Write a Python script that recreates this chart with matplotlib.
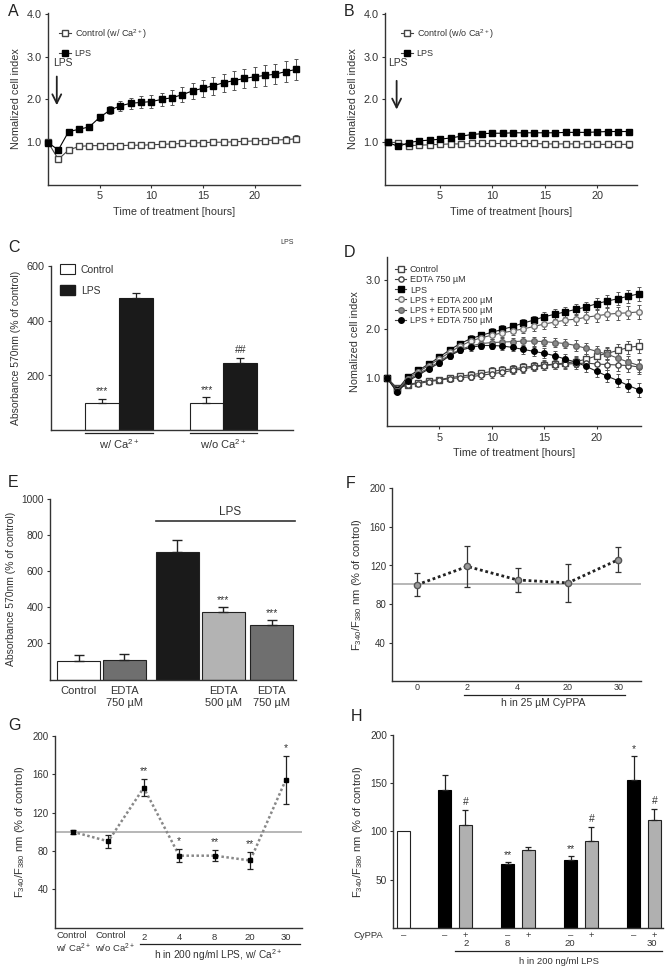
import numpy as np
import matplotlib
matplotlib.use("Agg")
import matplotlib.pyplot as plt
from matplotlib.lines import Line2D
from matplotlib.patches import Patch

plt.rcParams['font.family'] = ['Liberation Sans', 'DejaVu Sans']
plt.rcParams['mathtext.default'] = 'regular'
plt.rcParams['font.size'] = 7.5
plt.rcParams['text.color'] = '#333333'
plt.rcParams['axes.labelcolor'] = '#333333'

# ---- A: cell index with Ca2+ ----
hours_a = np.arange(25)
a_ctrl = [1.0, 0.6, 0.82, 0.9, 0.92, 0.92, 0.92, 0.92, 0.93, 0.93, 0.94, 0.95, 0.96,
          0.97, 0.98, 0.99, 1.0, 1.0, 1.01, 1.02, 1.03, 1.04, 1.05, 1.06, 1.08]
a_ctrl_err = [0.02, 0.03, 0.02, 0.02, 0.02, 0.02, 0.02, 0.02, 0.03, 0.03, 0.03, 0.03, 0.03,
              0.04, 0.04, 0.05, 0.05, 0.05, 0.06, 0.06, 0.06, 0.07, 0.07, 0.08, 0.08]
a_lps = [0.99, 0.82, 1.25, 1.3, 1.36, 1.58, 1.75, 1.85, 1.91, 1.93, 1.95, 2.0, 2.04,
         2.11, 2.2, 2.26, 2.32, 2.39, 2.44, 2.49, 2.53, 2.56, 2.59, 2.65, 2.7]
a_lps_err = [0.02, 0.03, 0.05, 0.05, 0.06, 0.08, 0.10, 0.12, 0.13, 0.14, 0.15, 0.16, 0.17,
             0.18, 0.19, 0.20, 0.21, 0.21, 0.22, 0.23, 0.23, 0.24, 0.24, 0.25, 0.25]

# ---- B: cell index without Ca2+ ----
hours_b = np.arange(24)
b_ctrl = [1.0, 0.99, 0.92, 0.93, 0.94, 0.95, 0.96, 0.96, 0.97, 0.97, 0.97, 0.97, 0.97,
          0.97, 0.97, 0.96, 0.96, 0.96, 0.96, 0.96, 0.95, 0.95, 0.95, 0.95]
b_ctrl_err = [0.01, 0.02, 0.02, 0.02, 0.02, 0.02, 0.02, 0.02, 0.02, 0.02, 0.02, 0.03,
              0.03, 0.03, 0.03, 0.04, 0.04, 0.05, 0.05, 0.06, 0.06, 0.07, 0.07, 0.08]
b_lps = [1.0, 0.9, 0.99, 1.03, 1.05, 1.07, 1.1, 1.14, 1.18, 1.2, 1.21, 1.21, 1.22,
         1.22, 1.22, 1.22, 1.22, 1.23, 1.23, 1.23, 1.24, 1.25, 1.25, 1.25]
b_lps_err = [0.01, 0.02, 0.02, 0.02, 0.02, 0.02, 0.02, 0.02, 0.02, 0.02, 0.02, 0.02,
             0.02, 0.02, 0.02, 0.02, 0.02, 0.02, 0.02, 0.02, 0.02, 0.02, 0.02, 0.02]

# ---- C: MTT with / without Ca2+ ----
c_groups = ['w/ Ca$^{2+}$', 'w/o Ca$^{2+}$']
c_ctrl = [100, 100]
c_ctrl_err = [15, 20]
c_lps = [485, 245]
c_lps_err = [18, 20]
c_ctrl_marks = ['***', '***']
c_lps_marks = ['', '##']

# ---- D: EDTA time course ----
hours_d = np.arange(25)
d_ctrl = [1.0, 0.78, 0.86, 0.9, 0.94, 0.96, 1.0, 1.03, 1.06, 1.09, 1.13, 1.16, 1.18,
          1.21, 1.24, 1.26, 1.28, 1.3, 1.33, 1.38, 1.45, 1.5, 1.56, 1.62, 1.65]
d_edta = [1.0, 0.78, 0.85, 0.88, 0.92, 0.95, 0.98, 1.0, 1.02, 1.05, 1.08, 1.11, 1.15,
          1.18, 1.22, 1.25, 1.27, 1.28, 1.29, 1.3, 1.28, 1.27, 1.26, 1.25, 1.22]
d_lps = [1.0, 0.75, 1.02, 1.15, 1.28, 1.42, 1.57, 1.7, 1.8, 1.87, 1.93, 1.99, 2.05,
         2.12, 2.18, 2.25, 2.3, 2.35, 2.4, 2.45, 2.52, 2.57, 2.62, 2.67, 2.72]
d_lps200 = [1.0, 0.73, 0.98, 1.12, 1.25, 1.38, 1.52, 1.65, 1.75, 1.82, 1.87, 1.92, 1.96,
            2.0, 2.05, 2.1, 2.14, 2.18, 2.2, 2.24, 2.27, 2.3, 2.32, 2.33, 2.35]
d_lps500 = [1.0, 0.72, 0.95, 1.08, 1.2, 1.33, 1.47, 1.58, 1.65, 1.7, 1.72, 1.73, 1.74,
            1.75, 1.75, 1.74, 1.72, 1.7, 1.66, 1.6, 1.54, 1.48, 1.4, 1.32, 1.25]
d_lps750 = [1.0, 0.7, 0.93, 1.05, 1.18, 1.3, 1.45, 1.56, 1.62, 1.66, 1.66, 1.65, 1.62,
            1.58, 1.54, 1.5, 1.45, 1.38, 1.32, 1.23, 1.13, 1.03, 0.94, 0.84, 0.75]
d_err = [0.02, 0.03, 0.04, 0.04, 0.05, 0.05, 0.06, 0.06, 0.07, 0.07, 0.08, 0.08, 0.08,
         0.09, 0.09, 0.1, 0.1, 0.1, 0.11, 0.11, 0.12, 0.12, 0.13, 0.13, 0.14]

# ---- E: MTT with EDTA ----
e_labels = ['Control', 'EDTA\n750 µM', '', 'EDTA\n500 µM', 'EDTA\n750 µM']
e_vals = [100, 108, 705, 375, 300]
e_err = [35, 35, 65, 28, 32]
e_marks = ['', '', '', '***', '***']

# ---- F: CyPPA calcium ----
f_labels = ['0', '2', '4', '20', '30']
f_vals = [100, 119, 105, 102, 126]
f_err = [12, 21, 12, 20, 13]
f_baseline = 101

# ---- G: LPS calcium ----
g_ctrl_labels = ['Control\nw/ Ca$^{2+}$', 'Control\nw/o Ca$^{2+}$']
g_labels = ['', '', '2', '4', '8', '20', '30']
g_vals = [100, 90, 146, 75, 75, 70, 154]
g_err = [2, 7, 9, 7, 6, 9, 25]
g_marks = ['', '', '**', '*', '**', '**', '*']

# ---- H: LPS +/- CyPPA ----
h_hours = ['2', '8', '20', '30']
h_ctrl = 100
h_lps = [143, 66, 70, 153]
h_lps_err = [15, 2, 4, 25]
h_cyppa = [107, 81, 90, 112]
h_cyppa_err = [15, 3, 15, 11]
h_lps_marks = ['', '**', '**', '*']
h_cyppa_marks = ['#', '', '#', '#']

W, H = 670, 971
fig = plt.figure(figsize=(W / 100, H / 100), dpi=100)
DARK = '#333333'


def panel(l, t, r, b, tick_size=7.8):
    ax = fig.add_axes([l / W, 1 - b / H, (r - l) / W, (b - t) / H])
    for s in ['top', 'right']:
        ax.spines[s].set_visible(False)
    for s in ['left', 'bottom']:
        ax.spines[s].set_color(DARK)
        ax.spines[s].set_linewidth(1.0)
    ax.tick_params(direction='out', length=2.5, width=0.8, color=DARK,
                   labelsize=tick_size, labelcolor=DARK, pad=2)
    return ax


def letter(x, y, s):
    fig.text(x / W, 1 - y / H, s, fontsize=11.5, va='center', ha='left', color='#222222')


def series(ax, x, y, err, marker, mfc, mec, ms=4, lc='#444444'):
    ax.errorbar(x, y, yerr=err, fmt='-' + marker, color=lc, mfc=mfc, mec=mec, ms=ms,
                lw=0.8, elinewidth=0.7, ecolor='#555555', capsize=1.5, capthick=0.7,
                clip_on=False, zorder=3)


def proxy(marker, mfc, mec, ms=4):
    return Line2D([], [], marker=marker, color='#444444', mfc=mfc, mec=mec, ms=ms, lw=0.8)


# ---------------- A ----------------
ax = panel(48, 13, 300, 185)
series(ax, hours_a, a_ctrl, a_ctrl_err, 's', 'white', '#444444', ms=4)
series(ax, hours_a, a_lps, a_lps_err, 's', 'black', 'black', ms=5, lc='black')
ax.set_xlim(0, 24.4)
ax.set_ylim(0, 4.02)
ax.set_yticks([1, 2, 3, 4])
ax.set_yticklabels(['1.0', '2.0', '3.0', '4.0'])
ax.set_xticks([5, 10, 15, 20])
ax.set_ylabel('Nomalized cell index', labelpad=4, fontsize=7.8)
ax.set_xlabel('Time of treatment [hours]', labelpad=4, fontsize=7.8)
ax.legend([proxy('s', 'white', '#444444'), proxy('s', 'black', 'black')],
          ['Control (w/ Ca$^{2+}$)', 'LPS'], loc='upper left', bbox_to_anchor=(0.03, 0.94),
          frameon=False, fontsize=6.5, handlelength=1.3, labelspacing=0.9, borderaxespad=0,
          handletextpad=0.4)
ax.annotate('', xy=(0.85, 1.8), xytext=(0.85, 2.6),
            arrowprops=dict(arrowstyle='->', lw=1.3, color='#222222', mutation_scale=16))
ax.text(1.4, 2.85, 'LPS', ha='center', va='center', fontsize=7.5)
letter(8, 12, 'A')

# ---------------- B ----------------
ax = panel(385, 13, 637, 185)
series(ax, hours_b, b_ctrl, b_ctrl_err, 's', 'white', '#444444', ms=4)
series(ax, hours_b, b_lps, b_lps_err, 's', 'black', 'black', ms=4.5, lc='black')
ax.set_xlim(-0.26, 23.8)
ax.set_ylim(0, 4.02)
ax.set_yticks([1, 2, 3, 4])
ax.set_yticklabels(['1.0', '2.0', '3.0', '4.0'])
ax.set_xticks([5, 10, 15, 20])
ax.set_ylabel('Nomalized cell index', labelpad=4, fontsize=7.8)
ax.set_xlabel('Time of treatment [hours]', labelpad=4, fontsize=7.8)
ax.legend([proxy('s', 'white', '#444444'), proxy('s', 'black', 'black')],
          ['Control (w/o Ca$^{2+}$)', 'LPS'], loc='upper left', bbox_to_anchor=(0.05, 0.94),
          frameon=False, fontsize=6.5, handlelength=1.3, labelspacing=0.9, borderaxespad=0,
          handletextpad=0.4)
ax.annotate('', xy=(0.85, 1.7), xytext=(0.85, 2.5),
            arrowprops=dict(arrowstyle='->', lw=1.3, color='#222222', mutation_scale=16))
ax.text(1.0, 2.85, 'LPS', ha='center', va='center', fontsize=7.5)
letter(344, 12, 'B')

# ---------------- C ----------------
ax = panel(51, 266.5, 293, 430)
gx = np.arange(len(c_groups))
w = 0.325
ax.bar(gx - w / 2, c_ctrl, w, yerr=[np.zeros(2), c_ctrl_err], color='white', edgecolor='#222222',
       lw=0.8, capsize=3, error_kw=dict(elinewidth=0.9, capthick=0.9, ecolor='#222222'))
ax.bar(gx + w / 2, c_lps, w, yerr=[np.zeros(2), c_lps_err], color='#1a1a1a', edgecolor='#1a1a1a',
       lw=0.8, capsize=3, error_kw=dict(elinewidth=0.9, capthick=0.9, ecolor='#222222'))
for i in range(len(c_groups)):
    ax.text(gx[i] - w / 2, c_ctrl[i] + c_ctrl_err[i] + 8, c_ctrl_marks[i], ha='center', va='bottom', fontsize=7.5)
    ax.text(gx[i] + w / 2, c_lps[i] + c_lps_err[i] + 10, c_lps_marks[i], ha='center', va='bottom', fontsize=7.5)
ax.set_xlim(-0.65, 1.665)
ax.set_ylim(0, 600)
ax.set_yticks([200, 400, 600])
ax.set_xticks([])
ax.set_ylabel('Absorbance 570nm (% of control)', labelpad=4)
tr = ax.get_xaxis_transform()
for i, lab in enumerate(c_groups):
    ax.plot([gx[i] - w, gx[i] + w], [-0.02, -0.02], color='#222222', lw=0.9,
            transform=tr, clip_on=False)
    ax.text(gx[i], -0.085, lab, transform=tr, ha='center', va='center', fontsize=8)
ax.legend([Patch(facecolor='white', edgecolor='#222222', lw=0.8),
           Patch(facecolor='#1a1a1a', edgecolor='#1a1a1a')], ['Control', 'LPS'],
          loc='upper left', bbox_to_anchor=(0.02, 1.04), frameon=False, fontsize=7.5,
          handlelength=1.4, handleheight=1.1, labelspacing=1.0, borderaxespad=0,
          handletextpad=0.6)
fig.text(287 / W, 1 - 243 / H, 'LPS', fontsize=5, ha='center', va='center')
letter(8, 247, 'C')

# ---------------- D ----------------
ax = panel(386.7, 256.7, 641, 426.5)
series(ax, hours_d, d_ctrl, d_err, 's', 'white', '#444444', ms=3.8)
series(ax, hours_d, d_edta, d_err, 'o', 'white', '#444444', ms=3.8)
series(ax, hours_d, d_lps, d_err, 's', 'black', 'black', ms=4, lc='#222222')
series(ax, hours_d, d_lps200, d_err, 'o', '#eeeeee', '#777777', ms=4, lc='#555555')
series(ax, hours_d, d_lps500, d_err, 'o', '#8a8a8a', '#666666', ms=4, lc='#555555')
series(ax, hours_d, d_lps750, d_err, 'o', 'black', 'black', ms=4, lc='#222222')
ax.set_xlim(0, 24.2)
ax.set_ylim(0, 3.48)
ax.set_yticks([1, 2, 3])
ax.set_yticklabels(['1.0', '2.0', '3.0'])
ax.set_xticks([5, 10, 15, 20])
ax.set_ylabel('Nomalized cell index', labelpad=4, fontsize=7.8)
ax.set_xlabel('Time of treatment [hours]', labelpad=4, fontsize=7.8)
ax.legend([proxy('s', 'white', '#444444', 3.8), proxy('o', 'white', '#444444', 3.8),
           proxy('s', 'black', 'black'), proxy('o', '#eeeeee', '#777777'),
           proxy('o', '#8a8a8a', '#666666'), proxy('o', 'black', 'black')],
          ['Control', 'EDTA 750 µM', 'LPS', 'LPS + EDTA 200 µM', 'LPS + EDTA 500 µM',
           'LPS + EDTA 750 µM'], loc='upper left', bbox_to_anchor=(0.02, 0.97),
          frameon=False, fontsize=6.5, handlelength=1.2, labelspacing=0.12,
          borderaxespad=0, handletextpad=0.4)
letter(344, 252, 'D')

# ---------------- E ----------------
ax = panel(50, 498.8, 296, 679.5, tick_size=7.3)
ex = np.array([0, 1, 2.15, 3.15, 4.2])
e_colors = ['white', '#6f6f6f', '#1a1a1a', '#b3b3b3', '#6f6f6f']
ax.bar(ex, e_vals, 0.93, yerr=[np.zeros(5), e_err], color=e_colors, edgecolor='#222222',
       lw=0.8, capsize=3.5, error_kw=dict(elinewidth=1.0, capthick=1.0, ecolor='#222222'))
for i in range(len(ex)):
    ax.text(ex[i], e_vals[i] + e_err[i] + 10, e_marks[i], ha='center', va='bottom', fontsize=7.5)
ax.set_xlim(-0.62, 4.73)
ax.set_ylim(0, 1000)
ax.set_yticks([200, 400, 600, 800, 1000])
ax.set_xticks(ex)
ax.set_xticklabels(e_labels, fontsize=8)
ax.tick_params(axis='x', length=0, pad=5)
ax.set_ylabel('Absorbance 570nm (% of control)', labelpad=4)
ax.plot([1.68, 4.71], [879, 879], color='#333333', lw=1.2, clip_on=False)
ax.text(3.29, 928, 'LPS', ha='center', va='center', fontsize=8.5)
letter(8, 482, 'E')

F_LABEL = 'F$_{340}$/F$_{380}$ nm (% of control)'

# ---------------- F ----------------
ax = panel(392.3, 488.3, 641, 681.3, tick_size=7)
fx = np.arange(len(f_labels))
ax.axhline(f_baseline, color='#aaaaaa', lw=1.2, zorder=1)
ax.plot(fx, f_vals, ls=(0, (1, 1)), color='#222222', lw=2.0, zorder=2)
ax.errorbar(fx, f_vals, yerr=f_err, fmt='o', mfc='#9a9a9a', mec='#555555', ms=4.5,
            ecolor='#333333', elinewidth=0.9, capsize=2, capthick=0.9, zorder=3)
ax.set_xlim(-0.49, 4.45)
ax.set_ylim(0, 200)
ax.set_yticks([40, 80, 120, 160, 200])
ax.set_xticks(fx)
ax.set_xticklabels(f_labels, fontsize=6.5)
ax.tick_params(axis='x', length=0, pad=1.5)
ax.set_ylabel(F_LABEL, labelpad=4, fontsize=8)
tr = ax.get_xaxis_transform()
ax.plot([0.94, 4.13], [-0.07, -0.07], color='#222222', lw=0.9, transform=tr, clip_on=False)
ax.text(2.5, -0.114, 'h in 25 µM CyPPA', transform=tr, ha='center', va='center', fontsize=7.5)
letter(346, 483, 'F')

# ---------------- G ----------------
ax = panel(55, 736, 301.7, 927.5, tick_size=7)
gx = np.arange(len(g_labels))
ax.axhline(100, color='#aaaaaa', lw=1.2, zorder=1)
ax.plot(gx, g_vals, ls=(0, (1, 1)), color='#888888', lw=1.8, zorder=2)
ax.errorbar(gx, g_vals, yerr=g_err, fmt='s', mfc='black', mec='black', ms=3.5,
            ecolor='#222222', elinewidth=0.9, capsize=2, capthick=0.9, zorder=3)
for i in range(len(gx)):
    ax.text(gx[i], g_vals[i] + g_err[i] + 3, g_marks[i], ha='center', va='bottom', fontsize=7.5)
ax.set_xlim(-0.5, 6.45)
ax.set_ylim(0, 200)
ax.set_yticks([40, 80, 120, 160, 200])
ax.set_xticks(gx)
ax.set_xticklabels(g_labels, fontsize=6.8)
ax.tick_params(axis='x', length=0, pad=4)
ax.set_ylabel(F_LABEL, labelpad=4, fontsize=8)
tr = ax.get_xaxis_transform()
for xpos, lab in zip([-0.47, 0.63], g_ctrl_labels):
    ax.text(xpos, -0.02, lab, transform=tr, ha='left', va='top', fontsize=6.8,
            linespacing=1.15)
ax.plot([1.9, 6.4], [-0.088, -0.088], color='#222222', lw=0.9, transform=tr, clip_on=False)
ax.text(4.1, -0.144, 'h in 200 ng/ml LPS, w/ Ca$^{2+}$', transform=tr, ha='center',
        va='center', fontsize=7.3)
letter(8, 725, 'G')

# ---------------- H ----------------
ax = panel(393.3, 735, 663, 927.7, tick_size=7.3)
hx = np.arange(1, len(h_hours) + 1)
off = 0.165
bw = 0.2
ctrl_x = 0.18
ax.bar([ctrl_x], [h_ctrl], bw, color='white', edgecolor='#222222', lw=0.8)
ax.bar(hx - off, h_lps, bw, yerr=[np.zeros(4), h_lps_err], color='black', edgecolor='black',
       lw=0.8, capsize=2, error_kw=dict(elinewidth=0.9, capthick=0.9, ecolor='#222222'))
ax.bar(hx + off, h_cyppa, bw, yerr=[np.zeros(4), h_cyppa_err], color='#b0b0b0',
       edgecolor='#222222', lw=0.8, capsize=2,
       error_kw=dict(elinewidth=0.9, capthick=0.9, ecolor='#222222'))
for i in range(len(hx)):
    ax.text(hx[i] - off, h_lps[i] + h_lps_err[i] + 2, h_lps_marks[i], ha='center', va='bottom', fontsize=7.5)
    ax.text(hx[i] + off, h_cyppa[i] + h_cyppa_err[i] + 3, h_cyppa_marks[i], ha='center', va='bottom', fontsize=7.5)
ax.set_xlim(0.02, 4.3)
ax.set_ylim(0, 200)
ax.set_yticks([50, 100, 150, 200])
ax.set_xticks([])
ax.set_ylabel(F_LABEL, labelpad=4, fontsize=8)
tr = ax.get_xaxis_transform()
ax.text(-0.38, -0.043, 'CyPPA', transform=tr, ha='center', va='center', fontsize=6.8)
ax.text(ctrl_x, -0.043, '–', transform=tr, ha='center', va='center', fontsize=6.8)
for i in range(len(hx)):
    ax.text(hx[i] - off, -0.043, '–', transform=tr, ha='center', va='center', fontsize=6.8)
    ax.text(hx[i] + off, -0.043, '+', transform=tr, ha='center', va='center', fontsize=6.8)
for xpos, lab in zip([1.17, 1.83, 2.82, 4.13], h_hours):
    ax.text(xpos, -0.083, lab, transform=tr, ha='center', va='center', fontsize=6.8)
ax.plot([1.0, 4.28], [-0.119, -0.119], color='#222222', lw=0.9, transform=tr, clip_on=False)
ax.text(2.65, -0.176, 'h in 200 ng/ml LPS', transform=tr, ha='center', va='center', fontsize=6.8)
letter(351, 716, 'H')

fig.savefig('out.png', dpi=100)
